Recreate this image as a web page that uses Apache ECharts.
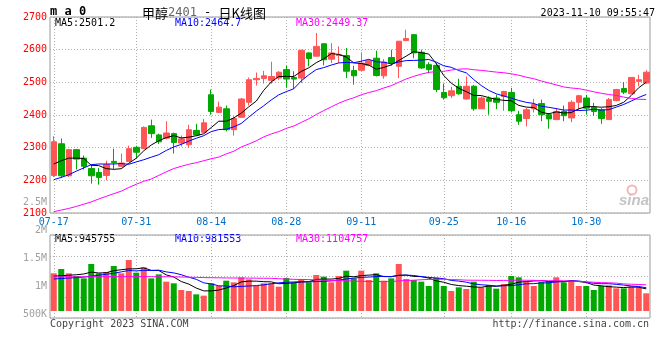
<!DOCTYPE html>
<html><head><meta charset="utf-8">
<script src="https://cdn.jsdelivr.net/npm/echarts@6/dist/echarts.min.js"></script>
<style>html,body{margin:0;padding:0;background:#fff}#c{width:660px;height:360px}</style>
</head><body><div id="c"></div>
<script>
const dates = ['07-14','07-17','07-18','07-19','07-20','07-21','07-24','07-25','07-26','07-27','07-28','07-31',
'08-01','08-02','08-03','08-04','08-07','08-08','08-09','08-10','08-11','08-14','08-15','08-16','08-17','08-18',
'08-21','08-22','08-23','08-24','08-25','08-28','08-29','08-30','08-31','09-01','09-04','09-05','09-06','09-07','09-08',
'09-11','09-12','09-13','09-14','09-15','09-18','09-19','09-20','09-21','09-22','09-25','09-26','09-27','09-28',
'10-09','10-10','10-11','10-12','10-13','10-16','10-17','10-18','10-19','10-20','10-23','10-24','10-25','10-26','10-27',
'10-30','10-31','11-01','11-02','11-03','11-06','11-07','11-08','11-09','11-10'];

const opens = [2215,2312,2214,2294,2268,2236,2224,2215,2258,2243, 2258,2301,2297,2367,2339,2329,2343,2314,2309,2353,
2347,2462,2408,2419,2355,2393,2439,2508,2512,2506, 2513,2539,2515,2513,2590,2580,2618,2571,2582,2582,
2536,2537,2552,2574,2520,2576,2549,2628,2646,2592, 2554,2552,2469,2459,2488,2449,2488,2419,2450,2452,
2457,2469,2401,2389,2419,2435,2401,2386,2411,2391, 2439,2452,2424,2416,2386,2444,2481,2465,2503,2498];
const closes = [2318,2214,2294,2265,2243,2214,2209,2248,2254,2253, 2297,2286,2362,2343,2318,2345,2316,2327,2355,2339,
2376,2411,2424,2355,2389,2449,2508,2512,2520,2518, 2531,2510,2510,2598,2573,2610,2569,2590,2585,2534,
2520,2559,2566,2521,2562,2559,2626,2634,2590,2544, 2539,2478,2453,2474,2465,2488,2419,2452,2442,2439,
2472,2413,2381,2416,2432,2401,2388,2411,2398,2439, 2459,2421,2411,2389,2447,2478,2470,2515,2508,2531];
const lows = [2210,2207,2210,2233,2233,2190,2187,2200,2235,2240, 2258,2268,2297,2330,2311,2325,2282,2304,2299,2337,
2345,2401,2406,2350,2337,2391,2429,2490,2496,2496, 2508,2483,2480,2498,2549,2580,2552,2559,2559,2513,
2493,2534,2549,2518,2511,2551,2513,2626,2574,2541, 2527,2470,2447,2452,2462,2447,2413,2418,2401,2418,
2413,2408,2370,2365,2408,2381,2358,2384,2381,2378, 2414,2401,2398,2373,2386,2442,2464,2465,2488,2496];
const highs = [2335,2328,2296,2296,2276,2248,2238,2260,2297,2282, 2306,2306,2365,2386,2343,2381,2346,2337,2370,2373,
2388,2478,2441,2429,2396,2452,2515,2530,2535,2563, 2534,2551,2534,2600,2592,2651,2620,2620,2610,2605,
2551,2592,2570,2597,2571,2600,2626,2661,2646,2600, 2561,2559,2496,2486,2511,2518,2492,2457,2457,2462,
2474,2483,2413,2421,2449,2447,2406,2421,2429,2445, 2462,2462,2437,2421,2452,2480,2501,2515,2523,2537];

const ma5 = [2250,2260,2268,2268,2266.8,2246.0,2245.0,2235.8,2233.6,2235.6, 2252.2,2267.6,2290.4,2308.2,2321.2,2330.8,2336.8,2329.8,2332.2,2336.4,
2342.6,2361.6,2381.0,2381.0,2391.0,2405.6,2425.0,2442.6,2475.6,2501.4, 2517.8,2518.2,2517.8,2533.4,2544.4,2560.2,2572.0,2588.0,2585.4,2577.6,
2559.6,2557.6,2552.8,2540.0,2545.6,2553.4,2566.8,2580.4,2594.2,2590.6, 2586.6,2557.0,2520.8,2497.6,2481.8,2471.6,2459.8,2459.6,2453.2,2448.0,
2444.8,2443.6,2429.4,2424.2,2422.8,2408.6,2403.6,2409.6,2406.0,2407.4, 2419.0,2425.6,2425.6,2423.8,2425.4,2429.2,2439.0,2459.8,2483.6,2500.4];
const ma10 = [2202,2209,2217,2228,2238,2248,2250,2250,2250,2251.2, 2249.1,2256.3,2263.1,2270.9,2278.4,2291.5,2302.2,2310.1,2320.2,2328.8,
2336.7,2349.2,2355.4,2356.6,2363.7,2374.1,2393.3,2411.8,2428.3,2446.2, 2461.7,2471.6,2480.2,2504.5,2522.9,2539.0,2545.1,2552.9,2559.4,2561.0,
2559.9,2564.8,2570.4,2562.7,2561.6,2556.5,2562.2,2566.6,2567.1,2568.1, 2570.0,2561.9,2550.6,2545.9,2536.2,2529.1,2508.4,2490.2,2475.4,2464.9,
2458.2,2451.7,2444.5,2438.7,2435.4,2426.7,2423.6,2419.5,2415.1,2415.1, 2413.8,2414.6,2417.6,2414.9,2416.4,2424.1,2432.3,2442.7,2453.7,2462.9];
const ma30 = [2104,2109,2114,2120,2127,2134,2143,2151,2159,2167, 2178,2188,2197,2204,2215,2226,2236,2243,2249,2254,
2260,2266,2271,2281,2289,2302,2311,2321,2333,2342.1, 2349.2,2359.0,2366.2,2377.3,2388.3,2401.5,2413.5,2424.9,2436.0,2445.3,
2452.8,2461.9,2468.7,2474.6,2482.7,2489.9,2500.2,2510.4,2518.3,2525.1, 2530.5,2532.8,2533.7,2537.7,2540.2,2541.5,2538.6,2536.6,2534.0,2531.3,
2529.4,2526.1,2521.8,2515.8,2511.1,2504.1,2498.1,2492.1,2485.9,2482.7, 2480.7,2476.1,2470.9,2466.5,2462.7,2460.0,2454.8,2450.8,2448.1,2447.6];

// volume, thousands of lots
const volK = [1601,1785,1601,1488,1388,1998,1601,1658,1913,1601, 2168,1629,1856,1388,1558,1247,1176,893,850,708,
652,1176,1063,1289,1218,1431,1346,1063,1176,1176, 1034,1403,1204,1360,1218,1530,1459,1218,1488,1714,
1388,1714,1318,1601,1289,1388,1998,1360,1318,1247, 1063,1417,1063,850,1006,935,1247,1006,1105,949,
1148,1488,1431,1247,1063,1247,1275,1431,1218,1275, 1063,1063,893,1063,1091,963,963,1034,992,751];
const vma5 = [1480,1500,1520,1540,1572.6,1652,1615.2,1626.6,1711.6,1754.2, 1788.2,1793.8,1833.4,1728.4,1719.8,1535.6,1445,1252.4,1144.8,974.8,
855.8,855.8,889.8,977.6,1079.6,1235.4,1269.4,1269.4,1246.8,1238.4, 1159,1170.4,1198.6,1235.4,1243.8,1343,1354.2,1357,1382.6,1481.8,
1453.4,1504.4,1524.4,1547,1462,1462,1518.8,1527.2,1470.6,1462.2, 1397.2,1281,1221.6,1128,1079.8,1054.2,1020.2,1008.8,1059.8,1048.4,
1091,1139.2,1224.2,1252.6,1275.4,1295.2,1252.6,1252.6,1246.8,1289.2, 1252.4,1210,1102.4,1071.4,1034.6,1014.6,994.6,1022.8,1008.6,940.6];
const vma10 = [1360,1380,1400,1420,1440,1480,1520,1560,1600,1663.4, 1720.1,1704.5,1730,1720,1737,1661.9,1619.4,1542.9,1436.6,1347.3,
1195.7,1150.4,1071.1,1061.2,1027.2,1045.6,1062.6,1079.6,1112.2,1159, 1197.2,1219.9,1234,1241.1,1241.1,1251,1262.3,1277.8,1309,1362.8,
1398.2,1429.3,1440.7,1464.8,1471.9,1457.7,1511.6,1525.8,1508.8,1462.1, 1429.6,1399.9,1374.4,1299.3,1271,1225.7,1150.6,1115.2,1093.9,1064.1,
1072.6,1079.7,1116.5,1156.2,1161.9,1193.1,1195.9,1238.4,1249.7,1282.3, 1273.8,1231.3,1177.5,1159.1,1161.9,1133.5,1102.3,1062.6,1040,987.6];
const vma30 = [1450,1452,1455,1455,1455,1458,1458,1458,1460,1460, 1462,1462,1462,1460,1458,1455,1450,1445,1438,1430,
1420,1415,1410,1405,1402,1400,1398,1395,1392,1389.9, 1371,1358.3,1345,1340.8,1335.1,1319.5,1314.8,1300.1,1285.9,1289.7,
1263.7,1266.5,1248.6,1255.7,1246.7,1251.4,1278.8,1294.4,1310,1328, 1341.7,1349.7,1349.7,1335.1,1328,1311.5,1308.2,1306.3,1303.9,1296.3,
1300.1,1303,1310.5,1306.8,1301.6,1292.2,1286,1293.1,1284.1,1269.5, 1258.7,1237,1222.8,1204.9,1198.3,1184.1,1149.6,1138.7,1127.9,1111.3];

const xTickIdx = [0, 11, 21, 31, 41, 52, 61, 71];
const xTickText = ['07-17','07-31','08-14','08-28','09-11','09-25','10-16','10-30'];
const volTickVals = [500, 1000, 1500, 2000, 2500];
const volTickText = ['500K','1M','1.5M','2M','2.5M'];
const priceLegend = ['MA5:2501.2', 'MA10:2464.7', 'MA30:2449.37'];
const volLegend = ['MA5:945755', 'MA10:981553', 'MA30:1104757'];
const maColors = ['#000000', '#0000ff', '#ff00ff'];

const UP = '#ff5555', DOWN = '#00a800';
const MONO = "'DejaVu Sans Mono', monospace";
const DOT = {color: '#b0b0b0', type: [1, 2], width: 1};
const candleData = opens.map((o, i) => [o, closes[i], lows[i], highs[i]]);
const volData = volK.map((v, i) => ({value: v, itemStyle: {color: closes[i] >= opens[i] ? UP : DOWN}}));
const tickSel = (idx) => xTickIdx.indexOf(idx) >= 0;

// vertical dotted grid lines at the labelled categories, placed through the category axis
function vGridSeries(xi, yi, yRef) {
  return {
    type: 'custom', xAxisIndex: xi, yAxisIndex: yi, silent: true, z: 1,
    data: xTickIdx.map(i => [i, yRef]),
    renderItem: function (params, api) {
      const cs = params.coordSys;
      const x = Math.round(api.coord([api.value(0), api.value(1)])[0]) + 0.5;
      return {type: 'line', shape: {x1: x, y1: cs.y, x2: x, y2: cs.y + cs.height},
        style: {stroke: '#b0b0b0', lineWidth: 1, lineDash: [1, 2]}};
    }
  };
}

function maLine(data, color, xi, yi) {
  return {type: 'line', data: data, xAxisIndex: xi, yAxisIndex: yi, showSymbol: false, symbol: 'none',
    lineStyle: {color: color, width: 1}, itemStyle: {color: color}, z: 5, silent: true};
}

const legendEls = [];
[55, 175, 296].forEach((x, k) => {
  legendEls.push({type: 'text', x: x, y: 23, style: {text: priceLegend[k], font: '10px ' + MONO, fill: maColors[k], textVerticalAlign: 'middle'}});
  legendEls.push({type: 'text', x: x, y: 239, style: {text: volLegend[k], font: '10px ' + MONO, fill: maColors[k], textVerticalAlign: 'middle'}});
});

const chart = echarts.init(document.getElementById('c'), null, {renderer: 'canvas'});
chart.setOption({
  animation: false,
  backgroundColor: '#fff',
  title: {
    text: '{a|甲醇}{b|2401}{c| - }{a|日K线图}', left: 142, top: 6, padding: 0,
    textStyle: {fontWeight: 'normal', rich: {
      a: {fontFamily: "'Noto Sans CJK SC', sans-serif", fontSize: 13, fontWeight: 'normal', color: '#000', lineHeight: 14},
      b: {fontFamily: MONO, fontSize: 12, fontWeight: 'normal', color: '#666', lineHeight: 14},
      c: {fontFamily: MONO, fontSize: 12, fontWeight: 'normal', color: '#000', lineHeight: 14}
    }}
  },
  grid: [
    {left: 50, width: 600, top: 17, height: 196, show: true, borderColor: '#999', borderWidth: 1, backgroundColor: 'transparent'},
    {left: 50, width: 600, top: 235, height: 83, show: true, borderColor: '#999', borderWidth: 1, backgroundColor: 'transparent'},
    {left: 50, width: 600, top: 202.4, height: 112, show: false}
  ],
  xAxis: [
    {type: 'category', gridIndex: 0, data: dates, boundaryGap: true,
      axisLine: {show: false}, axisTick: {show: false}, splitLine: {show: false},
      axisLabel: {interval: tickSel, formatter: (v, i) => xTickText[xTickIdx.indexOf(i)], color: '#0070c8', fontFamily: MONO, fontSize: 10, margin: 4}},
    {type: 'category', gridIndex: 1, data: dates, boundaryGap: true,
      axisLine: {show: false}, axisTick: {show: false}, axisLabel: {show: false}, splitLine: {show: false}},
    {type: 'category', gridIndex: 2, data: dates, show: false}
  ],
  yAxis: [
    {type: 'value', gridIndex: 0, min: 2100, max: 2700, interval: 100,
      axisLine: {show: false}, axisTick: {show: false},
      axisLabel: {color: '#ff0000', fontFamily: MONO, fontSize: 10, margin: 3, formatter: (v) => String(v)},
      splitLine: {show: true, lineStyle: DOT}},
    {type: 'value', gridIndex: 1, min: -297.5, max: 3230, show: false, splitLine: {show: false}},
    {type: 'value', gridIndex: 1, min: 0, max: 4, interval: 1,
      axisLine: {show: false}, axisTick: {show: false}, axisLabel: {show: false},
      splitLine: {show: true, lineStyle: DOT}},
    {type: 'value', gridIndex: 2, min: 500, max: 2500, interval: 500,
      axisLine: {show: false}, axisTick: {show: false}, splitLine: {show: false},
      axisLabel: {color: '#a0a0a0', fontFamily: MONO, fontSize: 10, margin: 3,
        formatter: (v) => volTickText[volTickVals.indexOf(v)]}}
  ],
  series: [
    vGridSeries(0, 0, 2400),
    vGridSeries(1, 1, 1000),
    {type: 'candlestick', data: candleData, xAxisIndex: 0, yAxisIndex: 0, barWidth: 6,
      itemStyle: {color: UP, color0: DOWN, borderColor: UP, borderColor0: DOWN, borderWidth: 1}, z: 3, silent: true},
    maLine(ma5, maColors[0], 0, 0), maLine(ma10, maColors[1], 0, 0), maLine(ma30, maColors[2], 0, 0),
    {type: 'bar', data: volData, xAxisIndex: 1, yAxisIndex: 1, barWidth: 6, z: 3, silent: true},
    maLine(vma5, maColors[0], 1, 1), maLine(vma10, maColors[1], 1, 1), maLine(vma30, maColors[2], 1, 1)
  ],
  graphic: [
    {type: 'text', x: 50, y: 12, style: {text: 'm a 0', font: 'bold 12px ' + MONO, fill: '#000', textVerticalAlign: 'middle'}},
    {type: 'text', x: 655, y: 13, style: {text: '2023-11-10 09:55:47', font: '10px ' + MONO, fill: '#000', textAlign: 'right', textVerticalAlign: 'middle'}},
    {type: 'text', x: 50, y: 324, style: {text: 'Copyright 2023 SINA.COM', font: '10px ' + MONO, fill: '#444', textVerticalAlign: 'middle'}},
    {type: 'text', x: 649, y: 324, style: {text: 'http://finance.sina.com.cn', font: '10px ' + MONO, fill: '#444', textAlign: 'right', textVerticalAlign: 'middle'}},
    {type: 'circle', shape: {cx: 632, cy: 190, r: 4.5}, style: {fill: 'none', stroke: '#f2b8b8', lineWidth: 2}},
    {type: 'text', x: 619, y: 201, style: {text: 'sina', font: 'italic bold 15px "Liberation Sans", sans-serif', fill: '#c4c4c4', textVerticalAlign: 'middle'}}
  ].concat(legendEls)
});
</script>
</body></html>
